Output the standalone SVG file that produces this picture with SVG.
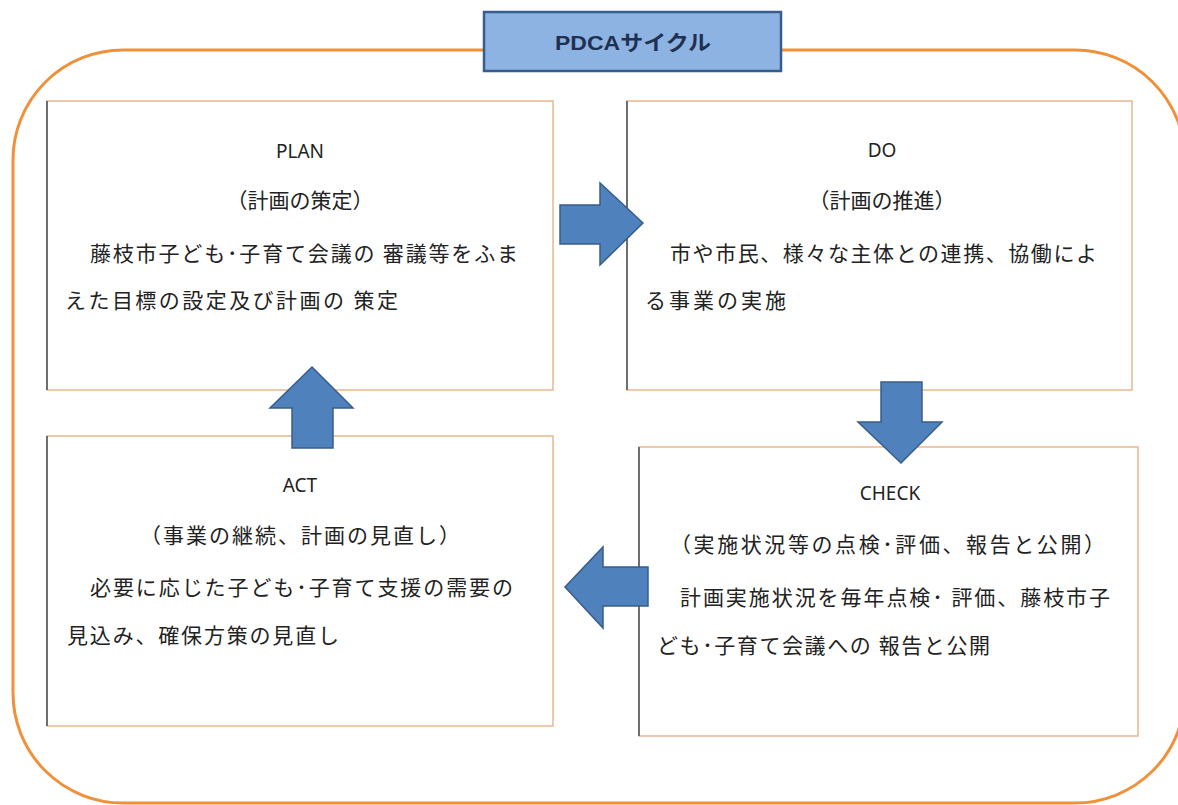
<svg xmlns="http://www.w3.org/2000/svg" width="1178" height="805" viewBox="0 0 1178 805">
  <style>
    .frame { fill: none; stroke: #F0913A; stroke-width: 3; }
    .box { fill: #FFFFFF; stroke: #E8B88E; stroke-width: 1.5; }
    .edge { stroke: #6E6E6E; stroke-width: 2; }
    .arrow { fill: #4F81BD; stroke: #385D8A; stroke-width: 1.5; stroke-linejoin: miter; }
    .title { fill: #8DB3E2; stroke: #385D8A; stroke-width: 2.5; }
    .tt { font-family: "Liberation Sans", "Noto Sans CJK JP", sans-serif; font-weight: bold; font-size: 21px; fill: #1F3050; }
    .hd { font-family: "Noto Sans", "Noto Sans CJK JP", sans-serif; font-size: 19px; fill: #222; }
    .tx { font-family: "Noto Sans CJK JP", sans-serif; font-size: 21px; fill: #222; }
  </style>

  <rect class="frame" x="13" y="50" width="1172" height="753" rx="110" ry="110"/>

  <g id="title">
    <rect class="title" x="484" y="12" width="297" height="59"/>
    <text class="tt" x="633" y="50" text-anchor="middle" textLength="156" lengthAdjust="spacingAndGlyphs">PDCAサイクル</text>
  </g>

  <g id="plan">
    <rect class="box" x="47" y="101" width="506" height="289"/>
    <line class="edge" x1="47" y1="101" x2="47" y2="390"/>
    <text class="hd" x="300" y="158" text-anchor="middle">PLAN</text>
    <text class="tx" x="300" y="208" text-anchor="middle">（計画の策定）</text>
    <text class="tx" x="90" y="261" textLength="428" lengthAdjust="spacing">藤枝市子ども･子育て会議の 審議等をふま</text>
    <text class="tx" x="65" y="308" textLength="333" lengthAdjust="spacing">えた目標の設定及び計画の 策定</text>
  </g>

  <g id="do">
    <rect class="box" x="627" y="101" width="505" height="289"/>
    <line class="edge" x1="627" y1="101" x2="627" y2="390"/>
    <text class="hd" x="882" y="157" text-anchor="middle">DO</text>
    <text class="tx" x="882" y="208" text-anchor="middle">（計画の推進）</text>
    <text class="tx" x="670" y="261" textLength="427" lengthAdjust="spacing">市や市民、様々な主体との連携、協働によ</text>
    <text class="tx" x="645" y="308" textLength="141" lengthAdjust="spacing">る事業の実施</text>
  </g>

  <g id="act">
    <rect class="box" x="47" y="436" width="506" height="290"/>
    <line class="edge" x1="47" y1="436" x2="47" y2="726"/>
    <text class="hd" x="300" y="492" text-anchor="middle">ACT</text>
    <text class="tx" x="140" y="543" textLength="320" lengthAdjust="spacing">（事業の継続、計画の見直し）</text>
    <text class="tx" x="90" y="595" textLength="423" lengthAdjust="spacing">必要に応じた子ども･子育て支援の需要の</text>
    <text class="tx" x="67" y="643" textLength="272" lengthAdjust="spacing">見込み、確保方策の見直し</text>
  </g>

  <g id="check">
    <rect class="box" x="639" y="447" width="499" height="289"/>
    <line class="edge" x1="639" y1="447" x2="639" y2="736"/>
    <text class="hd" x="890" y="500" text-anchor="middle">CHECK</text>
    <text class="tx" x="670" y="552" textLength="435" lengthAdjust="spacing">（実施状況等の点検･評価、報告と公開）</text>
    <text class="tx" x="680" y="605" textLength="430" lengthAdjust="spacing">計画実施状況を毎年点検･ 評価、藤枝市子</text>
    <text class="tx" x="657" y="653" textLength="333" lengthAdjust="spacing">ども･子育て会議への 報告と公開</text>
  </g>

  <g id="connectors">
    <polygon class="arrow" points="560,205 600,205 600,183 643,223 600,265 600,244 560,244"/>
    <polygon class="arrow" points="881,382 922,382 922,422 942,422 901,463 858,422 881,422"/>
    <polygon class="arrow" points="648,567 603,567 603,547 565,587 603,628 603,606 648,606"/>
    <polygon class="arrow" points="292,448 292,408 270,408 312,367 353,408 333,408 333,448"/>
  </g>
</svg>
